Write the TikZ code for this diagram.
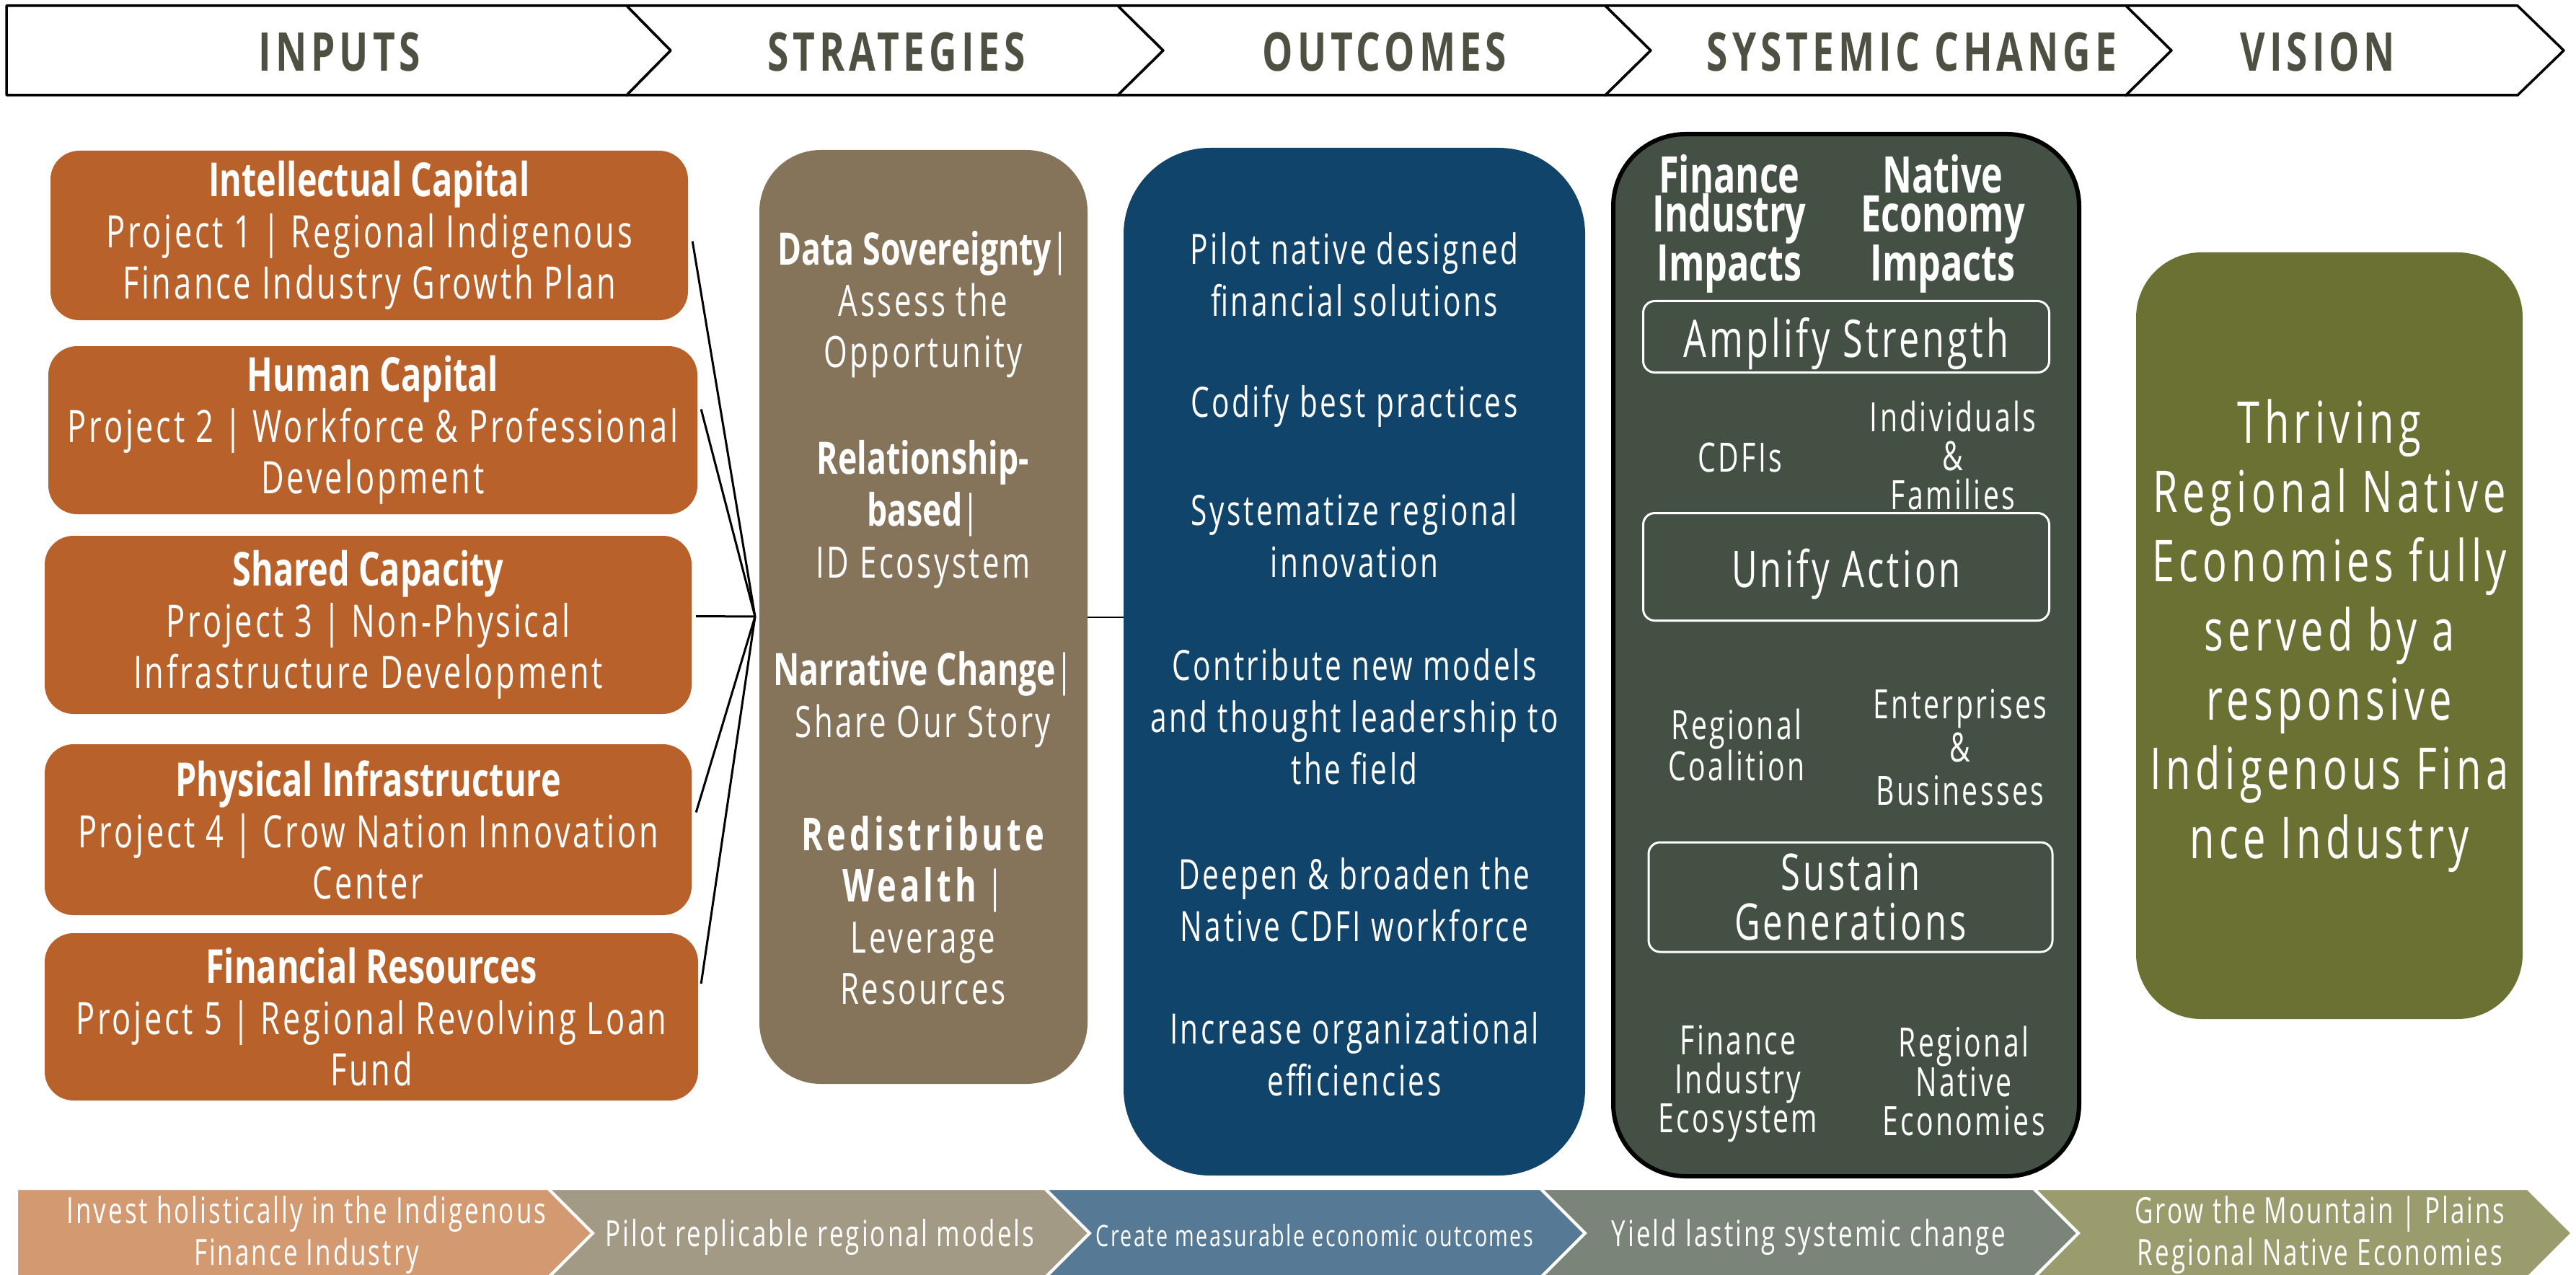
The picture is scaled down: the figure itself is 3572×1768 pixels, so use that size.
\documentclass[tikz,border=0pt]{standalone}
\usepackage{fontspec}
\setmainfont{Open Sans}
\newfontfamily\fTitle{Open Sans}[FakeStretch=0.72]
\newfontfamily\fLight{Open Sans}[FakeStretch=0.70,LetterSpace=6]
\newfontfamily\fHead{Open Sans}[FakeStretch=0.72,LetterSpace=8]
\newfontfamily\fVis{Open Sans}[FakeStretch=0.70,LetterSpace=8]
\usetikzlibrary{calc}
\definecolor{cOr}{HTML}{B8612A}
\definecolor{cSt}{HTML}{85735A}
\definecolor{cOu}{HTML}{11446A}
\definecolor{cSy}{HTML}{435043}
\definecolor{cVi}{HTML}{6B7133}
\definecolor{cHd}{HTML}{4E5042}
\definecolor{cF1}{HTML}{D39A72}
\definecolor{cF2}{HTML}{A39A85}
\definecolor{cF3}{HTML}{567A96}
\definecolor{cF4}{HTML}{7B8479}
\definecolor{cF5}{HTML}{9A9C6E}
\begin{document}
\begin{tikzpicture}[x=1pt,y=-1pt,
  hdr/.style={draw=black, line width=3.5pt, fill=white, line join=round},
  hdrtext/.style={text=cHd, inner sep=0pt, font=\fHead\bfseries\fontsize{74}{74}\selectfont},
  ftr/.style={draw=white, line width=4pt, line join=miter},
  ftrtext/.style={text=white, inner sep=0pt, align=center, font=\fLight\fontsize{50}{58}\selectfont},
  inbox/.style={fill=cOr, rounded corners=40pt, text=white, align=center, inner sep=0pt,
    font=\fLight\fontsize{62}{71}\selectfont},
  wtext/.style={text=white, inner sep=0pt, align=center},
  sbox/.style={draw=white, line width=3pt, rounded corners=16pt, text=white, align=center, inner sep=0pt},
  conn/.style={draw=black, line width=3pt},
  thin/.style={draw=black, line width=2pt}]
\useasboundingbox (0,0) rectangle (3572,1768);

% ---------- header chevrons ----------
\draw[hdr] (9,8) -- (869,8) -- (930,70) -- (869,132) -- (9,132) -- cycle;
\draw[hdr] (869,8) -- (1550,8) -- (1613,70) -- (1550,132) -- (869,132) -- (930,70) -- cycle;
\draw[hdr] (1550,8) -- (2226,8) -- (2289,70) -- (2226,132) -- (1550,132) -- (1613,70) -- cycle;
\draw[hdr] (2226,8) -- (2948,8) -- (3011,70) -- (2948,132) -- (2226,132) -- (2289,70) -- cycle;
\draw[hdr] (2948,8) -- (3491,8) -- (3555,70) -- (3491,132) -- (2948,132) -- (3011,70) -- cycle;
\node[hdrtext] (h1) at (471,72) {INPUTS};
\node[hdrtext] (h2) at (1243,72) {STRATEGIES};
\node[hdrtext] (h3) at (1920,72) {OUTCOMES};
\node[hdrtext] (h4) at (2651,72) {SYSTEMIC CHANGE};
\node[hdrtext] (h5) at (3214,72) {VISION};

% ---------- inputs ----------
\node[inbox, minimum width=884pt, minimum height=235pt] (in1) at (512,326.5)
  {{\fTitle\bfseries\fontsize{65}{71}\selectfont Intellectual Capital}\\Project 1 | Regional Indigenous\\Finance Industry Growth Plan};
\node[inbox, minimum width=900pt, minimum height=233pt] (in2) at (517,596.5)
  {{\fTitle\bfseries\fontsize{65}{71}\selectfont Human Capital}\\Project 2 | Workforce \& Professional\\Development};
\node[inbox, minimum width=897pt, minimum height=247pt] (in3) at (510.5,866.5)
  {{\fTitle\bfseries\fontsize{65}{71}\selectfont Shared Capacity}\\Project 3 | Non-Physical\\Infrastructure Development};
\node[inbox, minimum width=897pt, minimum height=237pt] (in4) at (510.5,1150.5)
  {{\fTitle\bfseries\fontsize{65}{71}\selectfont Physical Infrastructure}\\Project 4 | Crow Nation Innovation\\Center};
\node[inbox, minimum width=906pt, minimum height=232pt] (in5) at (515,1410)
  {{\fTitle\bfseries\fontsize{65}{71}\selectfont Financial Resources}\\Project 5 | Regional Revolving Loan\\Fund};

% ---------- strategies ----------
\node[fill=cSt, rounded corners=85pt, minimum width=455pt, minimum height=1295pt, inner sep=0pt] (strat) at (1280.5,855.5) {};
\node[wtext, font=\fLight\fontsize{60}{71}\selectfont] (s1) at (1280,422)
  {{\fTitle\bfseries\fontsize{62}{71}\selectfont Data Sovereignty}|\\Assess the\\Opportunity};
\node[wtext, font=\fLight\fontsize{60}{72}\selectfont] (s2) at (1280,713)
  {{\fTitle\bfseries\fontsize{62}{72}\selectfont Relationship-}\\{\fTitle\bfseries\fontsize{62}{72}\selectfont based}|\\ID Ecosystem};
\node[wtext, font=\fLight\fontsize{60}{72}\selectfont] (s3) at (1280,970)
  {{\fTitle\bfseries\fontsize{62}{72}\selectfont Narrative Change}|\\Share Our Story};
\node[wtext, font=\fLight\fontsize{60}{71}\selectfont] (s4) at (1280,1262)
  {{\fHead\bfseries\fontsize{63}{71}\selectfont Redistribute}\\{\fHead\bfseries\fontsize{63}{71}\selectfont Wealth} |\\Leverage\\Resources};

% ---------- outcomes ----------
\node[fill=cOu, rounded corners=120pt, minimum width=640pt, minimum height=1425pt, inner sep=0pt] (out) at (1878,917.5) {};
\begin{scope}[every node/.style={wtext, font=\fLight\fontsize{58}{72}\selectfont}]
\node (o1) at (1878,381) {Pilot native designed\\financial solutions};
\node (o2) at (1878,563) {Codify best practices};
\node (o3) at (1878,743) {Systematize regional\\innovation};
\node (o4) at (1878,994) {Contribute new models\\and thought leadership to\\the field};
\node (o5) at (1878,1248) {Deepen \& broaden the\\Native CDFI workforce};
\node (o6) at (1878,1462) {Increase organizational\\efficiencies};
\end{scope}

% ---------- systemic change ----------
\node[fill=cSy, draw=black, line width=6pt, rounded corners=100pt, minimum width=646pt, minimum height=1445pt, inner sep=0pt] (sys) at (2560,908.5) {};
\node[wtext, font=\fTitle\bfseries\fontsize{70}{54}\selectfont] (sh1) at (2398,310) {Finance\\Industry\\Impacts};
\node[wtext, font=\fTitle\bfseries\fontsize{70}{54}\selectfont] (sh2) at (2694,310) {Native\\Economy\\Impacts};
\node[sbox, minimum width=563pt, minimum height=99pt, text height=62pt, text depth=6pt, font=\fLight\fontsize{72}{72}\selectfont] (amp) at (2560,467) {Amplify Strength};
\node[wtext, font=\fLight\fontsize{56}{54}\selectfont] (cdfi) at (2413,634) {CDFIs};
\node[wtext, font=\fLight\fontsize{56}{54}\selectfont] (indiv) at (2708,631) {Individuals\\\&\\Families};
\node[sbox, minimum width=563pt, minimum height=149pt, text height=62pt, text depth=6pt, font=\fLight\fontsize{70}{70}\selectfont] (unify) at (2560,786) {Unify Action};
\node[wtext, font=\fLight\fontsize{56}{53}\selectfont] (regc) at (2408,1033) {Regional\\Coalition};
\node[wtext, font=\fLight\fontsize{56}{60}\selectfont] (ent) at (2718,1036) {Enterprises\\\&\\Businesses};
\node[sbox, minimum width=560pt, minimum height=152pt, font=\fLight\fontsize{70}{69}\selectfont] (sust) at (2566,1244) {Sustain\\Generations};
\node[wtext, font=\fLight\fontsize{56}{54}\selectfont] (fie) at (2410,1503) {Finance\\Industry\\Ecosystem};
\node[wtext, font=\fLight\fontsize{56}{54}\selectfont] (rne) at (2723,1499) {Regional\\Native\\Economies};

% ---------- vision ----------
\node[fill=cVi, rounded corners=90pt, minimum width=536pt, minimum height=1063pt, inner sep=0pt,
  text=white, align=center, font=\fVis\fontsize{80}{96}\selectfont] (vis) at (3230,881.5)
  {Thriving\\Regional Native\\Economies fully\\served by a\\responsive\\Indigenous Fina\\nce Industry};

% ---------- connectors ----------
\coordinate (hub) at (1047,855);
\draw[conn] ($(in1.east)+(6,8)$) -- (hub);
\draw[conn] ($(in2.east)+(5,-29)$) -- (hub);
\draw[conn] ($(in3.east)+(6,-12)$) -- (hub);
\draw[conn] ($(in4.east)+(6,-24)$) -- (hub);
\draw[conn] ($(in5.east)+(4,-46)$) -- (hub);
\draw[thin] (strat.east) -- (strat.east -| out.west);
\draw[thin] ($(out.east)+(0,-38)$) -- ($(out.east)+(0,-38)$ -| sys.west);
\draw[thin] ($(sys.east)+(0,-5)$) -- ($(sys.east)+(0,-5)$ -| vis.west);

% ---------- footer chevrons ----------
\draw[ftr, fill=cF1] (23,1648) -- (760,1648) -- (822,1710) -- (760,1772) -- (23,1772) -- cycle;
\draw[ftr, fill=cF2] (760,1648) -- (1449,1648) -- (1511,1710) -- (1449,1772) -- (760,1772) -- (822,1710) -- cycle;
\draw[ftr, fill=cF3] (1449,1648) -- (2136,1648) -- (2198,1710) -- (2136,1772) -- (1449,1772) -- (1511,1710) -- cycle;
\draw[ftr, fill=cF4] (2136,1648) -- (2820,1648) -- (2882,1710) -- (2820,1772) -- (2136,1772) -- (2198,1710) -- cycle;
\draw[ftr, fill=cF5] (2820,1648) -- (3505,1648) -- (3567,1710) -- (3505,1772) -- (2820,1772) -- (2882,1710) -- cycle;
\node[ftrtext] (f1) at (425,1712) {Invest holistically in the Indigenous\\Finance Industry};
\node[ftrtext] (f2) at (1137,1715) {Pilot replicable regional models};
\node[ftrtext, font=\fLight\fontsize{41}{50}\selectfont] (f3) at (1823,1713) {Create measurable economic outcomes};
\node[ftrtext] (f4) at (2508,1715) {Yield lasting systemic change};
\node[ftrtext] (f5) at (3217,1712) {Grow the Mountain | Plains\\Regional Native Economies};
\end{tikzpicture}
\end{document}
